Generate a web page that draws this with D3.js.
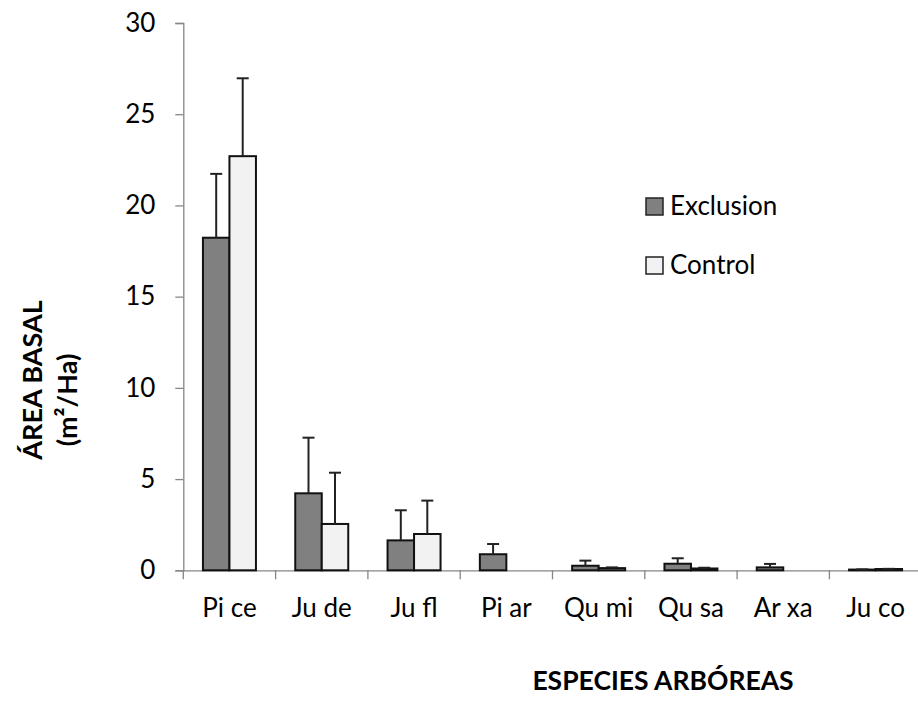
<!DOCTYPE html>
<html>
<head>
<meta charset="utf-8">
<script src="https://cdn.jsdelivr.net/npm/d3@7"></script>
<style>
  html, body { margin: 0; padding: 0; background: #fff; }
  svg { display: block; font-family: Lato, "Open Sans", sans-serif; }
</style>
</head>
<body>
<svg id="chart" width="918" height="710"></svg>
<script>
const categories = ["Pi ce", "Ju de", "Ju fl", "Pi ar", "Qu mi", "Qu sa", "Ar xa", "Ju co"];
const seriesNames = ["Exclusion", "Control"];
const exclusion = [18.23, 4.22, 1.64, 0.88, 0.25, 0.36, 0.16, 0.04];
const exclusionErr = [3.50, 3.05, 1.65, 0.56, 0.28, 0.30, 0.19, 0.01];
const control = [22.70, 2.54, 1.99, 0, 0.12, 0.10, 0, 0.07];
const controlErr = [4.27, 2.81, 1.83, 0, 0.04, 0.04, 0, 0.01];
const yTicks = [0, 5, 10, 15, 20, 25, 30];
const colors = ["#808080", "#f2f2f2"];

(function () {
const svg = d3.select("#chart");
const plotLeft = 183.3, plotTop = 23, plotBottom = 570.3, step = 92.3;

const x = d3.scaleBand().domain(categories).range([plotLeft, plotLeft + step * categories.length]).padding(0);
const groupW = 53;
const xs = d3.scaleBand().domain(seriesNames).range([(x.bandwidth() - groupW) / 2, (x.bandwidth() + groupW) / 2]).padding(0);
const y = d3.scaleLinear().domain([0, 30]).range([plotBottom, plotTop]);

// Y axis
const yAxis = svg.append("g").attr("transform", `translate(${plotLeft},0)`)
  .call(d3.axisLeft(y).tickValues(yTicks).tickSize(8).tickPadding(20).tickFormat(d3.format("d")));
yAxis.selectAll("path.domain").attr("stroke", "#868686").attr("stroke-width", 1.3);
yAxis.selectAll(".tick line").attr("stroke", "#868686").attr("stroke-width", 1.3);
yAxis.selectAll(".tick text").attr("font-size", 26).attr("fill", "#000").attr("font-family", "Lato");

// X axis
const xAxis = svg.append("g").attr("transform", `translate(0,${plotBottom})`)
  .call(d3.axisBottom(x).tickSize(0).tickPadding(28));
xAxis.selectAll("path.domain").attr("stroke", "#868686").attr("stroke-width", 1.3);
xAxis.selectAll(".tick text").attr("font-size", 26).attr("fill", "#000").attr("font-family", "Lato").attr("dy", "0.71em");
const boundaries = categories.map(c => x(c)).concat([x(categories[categories.length - 1]) + x.bandwidth()]);
xAxis.selectAll("line.bt").data(boundaries).join("line").attr("class", "bt")
  .attr("x1", d => d).attr("x2", d => d).attr("y1", 0).attr("y2", 9)
  .attr("stroke", "#868686").attr("stroke-width", 1.3);

// Bars
const series = [
  { name: "Exclusion", values: exclusion, errs: exclusionErr, color: colors[0] },
  { name: "Control", values: control, errs: controlErr, color: colors[1] }
];
series.forEach(s => {
  const g = svg.append("g");
  const rows = categories.map((c, i) => ({ c, v: s.values[i], e: s.errs[i] })).filter(d => d.v > 0);
  g.selectAll("rect").data(rows).join("rect")
    .attr("x", d => x(d.c) + xs(s.name))
    .attr("y", d => y(d.v))
    .attr("width", xs.bandwidth())
    .attr("height", d => y(0) - y(d.v))
    .attr("fill", s.color)
    .attr("stroke", "#111")
    .attr("stroke-width", 2);
  const eb = g.selectAll("g.err").data(rows).join("g").attr("class", "err");
  eb.append("line")
    .attr("x1", d => x(d.c) + xs(s.name) + xs.bandwidth() / 2)
    .attr("x2", d => x(d.c) + xs(s.name) + xs.bandwidth() / 2)
    .attr("y1", d => y(d.v)).attr("y2", d => y(d.v + d.e))
    .attr("stroke", "#222").attr("stroke-width", 2);
  eb.append("line")
    .attr("x1", d => x(d.c) + xs(s.name) + xs.bandwidth() / 2 - 6)
    .attr("x2", d => x(d.c) + xs(s.name) + xs.bandwidth() / 2 + 6)
    .attr("y1", d => y(d.v + d.e)).attr("y2", d => y(d.v + d.e))
    .attr("stroke", "#222").attr("stroke-width", 2);
});

// Legend
const legend = svg.append("g").attr("transform", "translate(646,198)");
seriesNames.forEach((n, i) => {
  const g = legend.append("g").attr("transform", `translate(0,${i * 59})`);
  g.append("rect").attr("x", 0).attr("y", 0).attr("width", 17).attr("height", 17)
    .attr("fill", colors[i]).attr("stroke", "#222").attr("stroke-width", 1.5);
  g.append("text").attr("x", 24).attr("y", 17).attr("font-size", 26).attr("fill", "#000").text(n);
});

// Axis titles
svg.append("text").attr("transform", "translate(42,380) rotate(-90)")
  .attr("text-anchor", "middle").attr("font-weight", "bold").attr("font-size", 27).text("ÁREA BASAL");
svg.append("text").attr("transform", "translate(77,400) rotate(-90)")
  .attr("text-anchor", "middle").attr("font-weight", "bold").attr("font-size", 27).text("(m²/Ha)");
svg.append("text").attr("x", 663).attr("y", 690)
  .attr("text-anchor", "middle").attr("font-weight", "bold").attr("font-size", 26.5).text("ESPECIES ARBÓREAS");
})();
</script>
</body>
</html>
